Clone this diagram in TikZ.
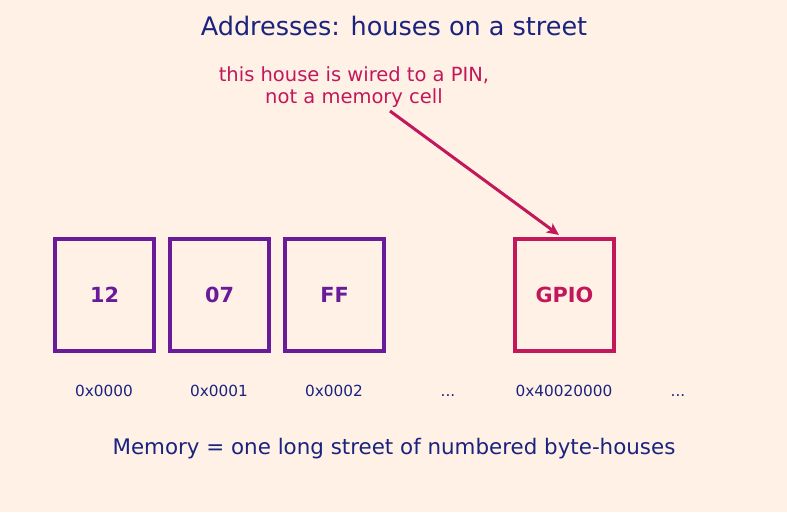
\documentclass[tikz,border=0pt]{standalone}
\usepackage{fontspec}
\setmainfont{DejaVu Sans}
\usetikzlibrary{arrows.meta}
\definecolor{bg}{HTML}{FFF1E6}
\definecolor{navy}{HTML}{1A237E}
\definecolor{purp}{HTML}{6A1B9A}
\definecolor{crim}{HTML}{C2185B}
\tikzset{
  house/.style={draw=purp, line width=4pt, minimum width=99pt, minimum height=112pt, inner sep=0pt, text=purp, font=\fontsize{20.8}{25}\selectfont\bfseries},
  addr/.style={text=navy, font=\fontsize{15.3}{18}\selectfont, inner sep=0pt, anchor=base},
}
\begin{document}
\begin{tikzpicture}[x=1pt,y=-1pt]
\fill[bg] (0,0) rectangle (787,512);
\useasboundingbox (0,0) rectangle (787,512);
\node[text=navy, font=\fontsize{25.5}{30}\selectfont, inner sep=0pt] (title) at (394,26) {Addresses: houses on a street};
\node[text=crim, font=\fontsize{19.5}{22}\selectfont, align=center, inner sep=0pt] (note) at (354,87) {this house is wired to a PIN,\\not a memory cell};
\node[house] (h0) at (104.5,295) {12};
\node[house] (h1) at (219.5,295) {07};
\node[house] (h2) at (334.5,295) {FF};
\node[house, draw=crim, text=crim] (hg) at (564.5,295) {GPIO};
\node[addr] (a0) at (104,396) {0x0000};
\node[addr] (a1) at (219,396) {0x0001};
\node[addr] (a2) at (334,396) {0x0002};
\node[addr] (d1) at (448,396) {...};
\node[addr] (ag) at (564,396) {0x40020000};
\node[addr] (d2) at (678,396) {...};
\coordinate (as) at (390,111);
\coordinate (ae) at (559,235);
\draw[crim, line width=3pt, -{Stealth[length=12pt,width=11pt,inset=3pt]}] (as) -- (ae);
\node[text=navy, font=\fontsize{21.4}{25}\selectfont, inner sep=0pt, anchor=base] (foot) at (394,454) {Memory = one long street of numbered byte-houses};
\end{tikzpicture}
\end{document}
